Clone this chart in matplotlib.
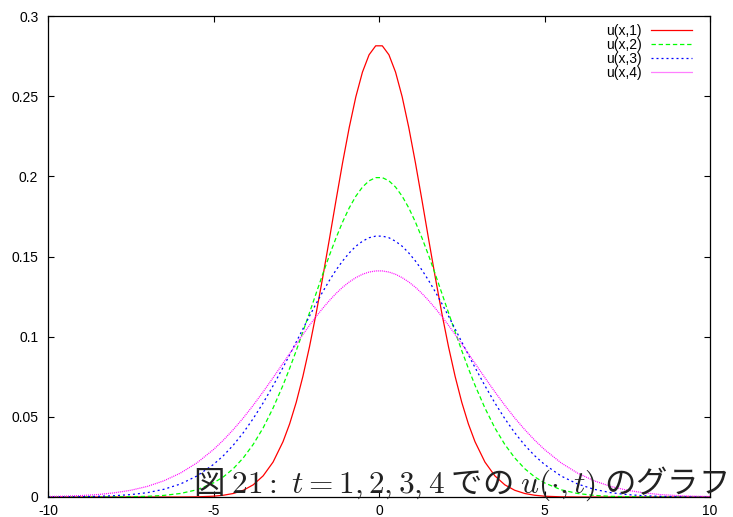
import matplotlib
matplotlib.use("Agg")
import matplotlib.pyplot as plt

# sample points (x) and curve values
x = [-10.0, -9.5, -9.0, -8.5, -8.0, -7.5, -7.0, -6.5, -6.0, -5.5, -5.0, -4.7,
     -4.4, -4.1, -3.8, -3.5, -3.2, -2.9, -2.7, -2.5, -2.3, -2.1, -1.9, -1.7,
     -1.5, -1.3, -1.1, -0.9, -0.7, -0.5, -0.3, -0.1,
     0.1, 0.3, 0.5, 0.7, 0.9, 1.1, 1.3, 1.5, 1.7, 1.9, 2.1, 2.3, 2.5, 2.7,
     2.9, 3.2, 3.5, 3.8, 4.1, 4.4, 4.7, 5.0, 5.5, 6.0, 6.5, 7.0, 7.5, 8.0,
     8.5, 9.0, 9.5, 10.0]

u1 = [0.0, 0.0, 0.0, 0.0, 0.0, 0.0, 0.0, 0.0, 0.0, 0.0001, 0.0005, 0.0011,
      0.0022, 0.0042, 0.0076, 0.0132, 0.0218, 0.0345, 0.0456, 0.0591, 0.0752,
      0.0937, 0.1144, 0.1370, 0.1607, 0.1849, 0.2085, 0.2304, 0.2496, 0.2650,
      0.2758, 0.2814,
      0.2814, 0.2758, 0.2650, 0.2496, 0.2304, 0.2085, 0.1849, 0.1607, 0.1370,
      0.1144, 0.0937, 0.0752, 0.0591, 0.0456, 0.0345, 0.0218, 0.0132, 0.0076,
      0.0042, 0.0022, 0.0011, 0.0005, 0.0001, 0.0, 0.0, 0.0, 0.0, 0.0, 0.0,
      0.0, 0.0, 0.0]

u2 = [0.0, 0.0, 0.0, 0.0, 0.0001, 0.0002, 0.0004, 0.0010, 0.0022, 0.0045,
      0.0088, 0.0126, 0.0177, 0.0244, 0.0328, 0.0431, 0.0555, 0.0697, 0.0802,
      0.0913, 0.1030, 0.1149, 0.1270, 0.1390, 0.1506, 0.1615, 0.1715, 0.1803,
      0.1876, 0.1933, 0.1972, 0.1992,
      0.1992, 0.1972, 0.1933, 0.1876, 0.1803, 0.1715, 0.1615, 0.1506, 0.1390,
      0.1270, 0.1149, 0.1030, 0.0913, 0.0802, 0.0697, 0.0555, 0.0431, 0.0328,
      0.0244, 0.0177, 0.0126, 0.0088, 0.0045, 0.0022, 0.0010, 0.0004, 0.0002,
      0.0001, 0.0, 0.0, 0.0, 0.0]

u3 = [0.0, 0.0001, 0.0002, 0.0004, 0.0008, 0.0015, 0.0027, 0.0048, 0.0081,
      0.0131, 0.0203, 0.0258, 0.0324, 0.0401, 0.0489, 0.0587, 0.0694, 0.0808,
      0.0887, 0.0967, 0.1048, 0.1128, 0.1206, 0.1280, 0.1350, 0.1415, 0.1472,
      0.1522, 0.1564, 0.1595, 0.1617, 0.1627,
      0.1627, 0.1617, 0.1595, 0.1564, 0.1522, 0.1472, 0.1415, 0.1350, 0.1280,
      0.1206, 0.1128, 0.1048, 0.0967, 0.0887, 0.0808, 0.0694, 0.0587, 0.0489,
      0.0401, 0.0324, 0.0258, 0.0203, 0.0131, 0.0081, 0.0048, 0.0027, 0.0015,
      0.0008, 0.0004, 0.0002, 0.0001, 0.0]

u4 = [0.0003, 0.0005, 0.0009, 0.0015, 0.0026, 0.0042, 0.0066, 0.0101, 0.0149,
      0.0213, 0.0296, 0.0355, 0.0421, 0.0493, 0.0572, 0.0656, 0.0744, 0.0834,
      0.0894, 0.0954, 0.1013, 0.1071, 0.1126, 0.1177, 0.1225, 0.1269, 0.1308,
      0.1341, 0.1368, 0.1389, 0.1403, 0.1410,
      0.1410, 0.1403, 0.1389, 0.1368, 0.1341, 0.1308, 0.1269, 0.1225, 0.1177,
      0.1126, 0.1071, 0.1013, 0.0954, 0.0894, 0.0834, 0.0744, 0.0656, 0.0572,
      0.0493, 0.0421, 0.0355, 0.0296, 0.0213, 0.0149, 0.0101, 0.0066, 0.0042,
      0.0026, 0.0015, 0.0009, 0.0005, 0.0003]

labels = ["u(x,1)", "u(x,2)", "u(x,3)", "u(x,4)"]
xticks = [-10, -5, 0, 5, 10]
yticks = [0, 0.05, 0.1, 0.15, 0.2, 0.25, 0.3]
ytick_labels = ["0", "0.05", "0.1", "0.15", "0.2", "0.25", "0.3"]

plt.rcParams["font.family"] = ["Liberation Sans", "DejaVu Sans"]
plt.rcParams["mathtext.fontset"] = "cm"

fig = plt.figure(figsize=(7.33, 5.17), dpi=100)
ax = fig.add_axes([48 / 733, 20 / 517, 662 / 733, 481 / 517])

ax.plot(x, u1, color="#ff0000", lw=0.9, label=labels[0])
ax.plot(x, u2, color="#00ff00", lw=0.9, ls=(0, (3.5, 2.2)), label=labels[1])
ax.plot(x, u3, color="#0000ff", lw=0.9, ls=(0, (1.6, 2.4)), label=labels[2])
ax.plot(x, u4, color="#ff00ff", lw=0.9, ls=(0, (0.8, 0.8)), label=labels[3])

ax.set_xlim(-10, 10)
ax.set_ylim(0, 0.3)
ax.set_xticks(xticks)
ax.set_xticklabels([str(v) for v in xticks])
ax.set_yticks(yticks)
ax.set_yticklabels(ytick_labels)
ax.tick_params(direction="in", length=4, width=0.8, labelsize=10,
               top=True, right=True)
ax.tick_params(axis="x", pad=5)
ax.tick_params(axis="y", pad=7)
for s in ax.spines.values():
    s.set_linewidth(0.9)

ax.legend(loc="upper right", bbox_to_anchor=(0.988, 1.004), frameon=False,
          markerfirst=False, fontsize=10, handlelength=2.95,
          handletextpad=0.7, labelspacing=0.0, borderpad=0.2)

# caption laid over the bottom of the plot
fig.text(193 / 733, 24 / 517,
         "図 $\\mathrm{21{:}}\\ t = 1, 2, 3, 4$ での $u(\\cdot, t)$ のグラフ",
         fontsize=22.6, family=["Noto Sans CJK JP", "DejaVu Sans"],
         ha="left", va="baseline", color="#222222")

plt.savefig("out.png", dpi=100)
